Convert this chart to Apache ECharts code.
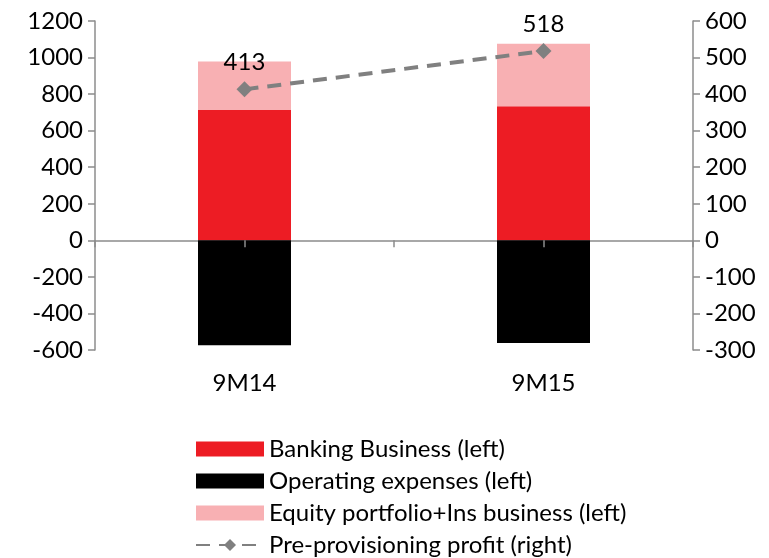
<!DOCTYPE html>
<html><head><meta charset="utf-8">
<script src="https://cdn.jsdelivr.net/npm/echarts@6/dist/echarts.min.js"></script>
<style>html,body{margin:0;padding:0;background:#fff}#c{width:769px;height:558px}</style>
</head><body><div id="c"></div>
<script>
const categories = ['9M14', '9M15'];
const banking = [713, 733];
const opex = [-574, -562];
const equity = [266, 343];
const profit = [413, 518];
const leftTicks = { min: -600, max: 1200, interval: 200 };
const rightTicks = { min: -300, max: 600, interval: 100 };

const FONT = 'Lato';
const FS = 24;
const AXC = '#8c8c8c';
const plain = v => String(v);
const chart = echarts.init(document.getElementById('c'));
chart.setOption({
  animation: false,
  textStyle: { fontFamily: FONT },
  grid: { left: 95, right: 76, top: 21, bottom: 208 },
  legend: {
    orient: 'vertical', left: 195, top: 437, height: 121, padding: 0,
    itemWidth: 68, itemHeight: 15, itemGap: 8,
    textStyle: { fontFamily: FONT, fontSize: FS, color: '#000', lineHeight: 24 },
    data: [
      { name: 'Banking Business (left)', icon: 'rect' },
      { name: 'Operating expenses (left)', icon: 'rect' },
      { name: 'Equity portfolio+Ins business (left)', icon: 'rect' },
      { name: 'Pre-provisioning profit (right)' }
    ]
  },
  xAxis: [{
    type: 'category', data: categories, position: 'bottom',
    axisLine: { onZero: true, lineStyle: { color: AXC, width: 1.5 } },
    axisTick: { show: true, length: 7, lineStyle: { color: AXC, width: 1.5 } },
    axisLabel: { margin: 21, fontSize: FS, color: '#000', fontFamily: FONT }
  }, {
    type: 'category', data: categories, position: 'top', z: 10,
    axisLine: { show: false, onZero: true },
    axisTick: { show: true, alignWithLabel: true, inside: true, length: 7, lineStyle: { color: AXC, width: 1.5 } },
    axisLabel: { show: true, color: 'rgba(0,0,0,0)', fontSize: 10 }
  }],
  yAxis: [{
    type: 'value', position: 'left', ...leftTicks,
    axisLine: { show: true, lineStyle: { color: AXC, width: 1.5 } },
    axisTick: { show: true, length: 7, lineStyle: { color: AXC, width: 1.5 } },
    splitLine: { show: false },
    axisLabel: { fontSize: FS, color: '#000', fontFamily: FONT, margin: 12, formatter: plain }
  }, {
    type: 'value', position: 'right', ...rightTicks,
    axisLine: { show: true, lineStyle: { color: AXC, width: 1.5 } },
    axisTick: { show: true, length: 7, lineStyle: { color: AXC, width: 1.5 } },
    splitLine: { show: false },
    axisLabel: { fontSize: FS, color: '#000', fontFamily: FONT, margin: 12, formatter: plain }
  }],
  series: [{
    name: 'Banking Business (left)', type: 'bar', stack: 's', data: banking,
    barWidth: 93, itemStyle: { color: '#ED1C24' }
  }, {
    name: 'Operating expenses (left)', type: 'bar', stack: 's', data: opex,
    barWidth: 93, itemStyle: { color: '#000000' }
  }, {
    name: 'Equity portfolio+Ins business (left)', type: 'bar', stack: 's', data: equity,
    barWidth: 93, itemStyle: { color: '#F8B0B3' }
  }, {
    name: 'Pre-provisioning profit (right)', type: 'line', yAxisIndex: 1, xAxisIndex: 0,
    data: profit, symbol: 'diamond', symbolSize: 16,
    itemStyle: { color: '#808080' },
    lineStyle: { color: '#808080', width: 4, type: [14, 9] },
    label: { show: true, position: 'top', distance: 7, fontSize: FS, color: '#000', fontFamily: FONT },
    z: 5
  }]
});
</script></body></html>
